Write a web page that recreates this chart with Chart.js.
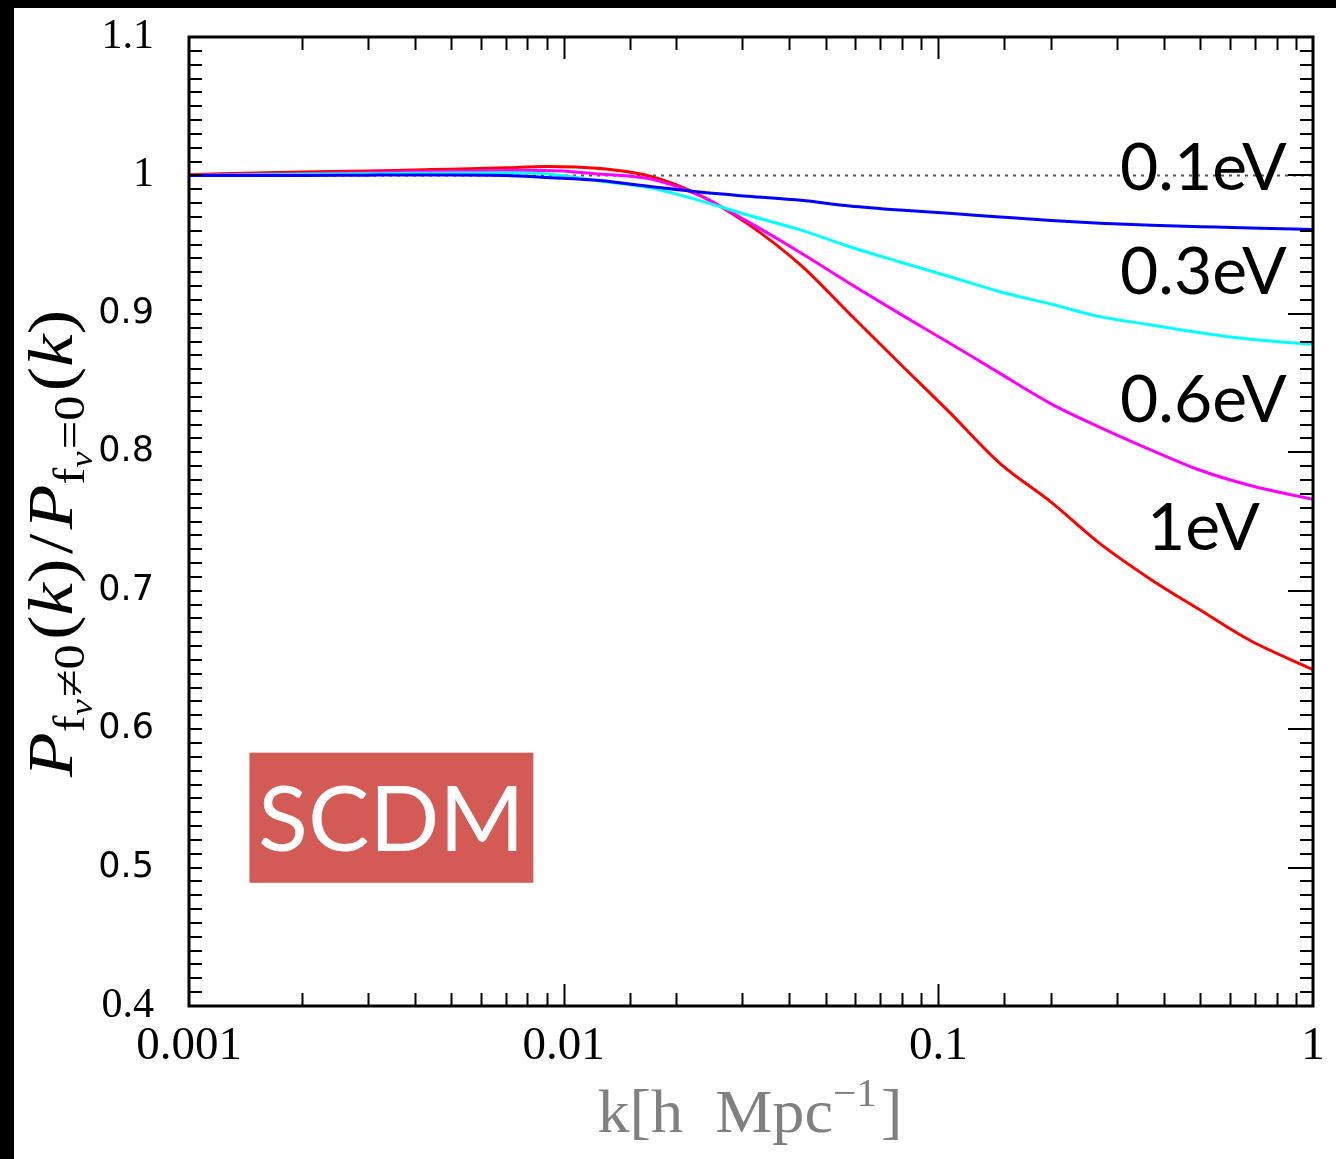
<!DOCTYPE html>
<html>
<head>
<meta charset="utf-8">
<script src="https://cdn.jsdelivr.net/npm/chart.js@4.4.0/dist/chart.umd.min.js"></script>
<style>
  html, body { margin: 0; padding: 0; background: #000; }
  #wrap { position: absolute; left: 14px; top: 8px; width: 1322px; height: 1151px; background: #fff; }
  canvas { display: block; }
</style>
</head>
<body>
<div id="wrap"><canvas id="ratioChart" width="1322" height="1151"></canvas></div>
<script>
const kValues = [0.001, 0.0015, 0.002, 0.003, 0.004, 0.005, 0.007, 0.009, 0.0125, 0.017,
                 0.023, 0.031, 0.043, 0.058, 0.079, 0.107, 0.146, 0.2, 0.27, 0.37, 0.5, 0.68, 1.0];

// P(k) ratio for each neutrino mass
const ratio01eV = [1.0, 1.0, 1.0, 1.0002, 1.0003, 1.0003, 1.0, 0.9985, 0.9963, 0.992,
                   0.988, 0.985, 0.982, 0.978, 0.975, 0.9726, 0.970, 0.9675, 0.9655, 0.964, 0.963, 0.962, 0.961];
const ratio03eV = [1.0, 1.0005, 1.0008, 1.0012, 1.0015, 1.0018, 1.002, 1.0012, 0.996, 0.991,
                   0.982, 0.9714, 0.9605, 0.9485, 0.9375, 0.927, 0.916, 0.907, 0.898, 0.892, 0.8863, 0.8816, 0.878];
const ratio06eV = [1.0, 1.0008, 1.0012, 1.002, 1.0027, 1.003, 1.0035, 1.0036, 1.001, 0.9975,
                   0.9855, 0.9666, 0.944, 0.922, 0.900, 0.879, 0.857, 0.835, 0.818, 0.8016, 0.787, 0.776, 0.766];
const ratio1eV  = [1.0005, 1.0018, 1.0025, 1.0032, 1.004, 1.0045, 1.0055, 1.0065, 1.005, 0.9995,
                   0.986, 0.965, 0.935, 0.900, 0.864, 0.829, 0.792, 0.764, 0.734, 0.708, 0.686, 0.664, 0.643];

// Curve labels, placed in data coordinates (centre of text)
const massLabels = ['0.1eV', '0.3eV', '0.6eV', '1eV'];
const labelK = [0.51, 0.51, 0.51, 0.51];
const labelRatio = [1.0068, 0.9316, 0.8395, 0.7467];

// Tick labels
const xTickValues = [0.001, 0.01, 0.1, 1];
const xTickLabels = ['0.001', '0.01', '0.1', '1'];
const yTickValues = [0.4, 0.5, 0.6, 0.7, 0.8, 0.9, 1.0, 1.1];
const yTickLabels = ['0.4', '0.5', '0.6', '0.7', '0.8', '0.9', '1', '1.1'];
const ySerifLabels = ['0.4', '1', '1.1'];

// Model box
const modelName = 'SCDM';
const modelBoxK = [0.00145, 0.0083];
const modelBoxRatio = [0.489, 0.583];

const serif = "'Liberation Serif', 'DejaVu Serif', serif";
const sansLabel = "Lato, 'Open Sans', sans-serif";

function toPoints(vals) {
    return kValues.map((k, i) => ({ x: k, y: vals[i] }));
}

function findLabel(values, labels, v) {
    for (let i = 0; i < values.length; i++) {
        if (Math.abs(values[i] - v) < 1e-6 * Math.max(1, values[i])) return labels[i];
    }
    return '';
}

function drawRuns(ctx, runs, color) {
    // returns total width, draws from x=0 along baseline
    let x = 0;
    runs.forEach(r => {
        ctx.font = `${r.style || 'normal'} ${r.size}px ${serif}`;
        if (color) {
            ctx.fillStyle = color;
            ctx.fillText(r.t, x, r.dy || 0);
        }
        x += ctx.measureText(r.t).width + (r.gap || 0);
    });
    return x;
}

const yTitleRuns = [
    { t: 'P', style: 'italic', size: 64 },
    { t: 'f', size: 44, dy: 12 },
    { t: 'ν', style: 'italic', size: 32, dy: 20, gap: 2 },
    { t: '≠0', size: 44, dy: 12, gap: 4 },
    { t: '(', size: 64 },
    { t: 'k', style: 'italic', size: 64 },
    { t: ')', size: 64, gap: 4 },
    { t: '/', size: 64, gap: 4 },
    { t: 'P', style: 'italic', size: 64 },
    { t: 'f', size: 44, dy: 12 },
    { t: 'ν', style: 'italic', size: 32, dy: 20, gap: 2 },
    { t: '=0', size: 44, dy: 12, gap: 4 },
    { t: '(', size: 64 },
    { t: 'k', style: 'italic', size: 64 },
    { t: ')', size: 64 }
];

const xTitleRuns = [
    { t: 'k[h  Mpc', size: 62 },
    { t: '−1', size: 40, dy: -26, gap: 4 },
    { t: ']', size: 62 }
];

const framePlugin = {
    id: 'frameAndTicks',
    beforeDatasetsDraw(chart) {
        const ctx = chart.ctx;
        const xs = chart.scales.x, ys = chart.scales.y;
        const x0 = xs.getPixelForValue(modelBoxK[0]), x1 = xs.getPixelForValue(modelBoxK[1]);
        const y0 = ys.getPixelForValue(modelBoxRatio[1]), y1 = ys.getPixelForValue(modelBoxRatio[0]);
        ctx.save();
        ctx.fillStyle = '#d45a56';
        ctx.fillRect(x0, y0, x1 - x0, y1 - y0);
        ctx.font = `92px ${sansLabel}`;
        ctx.fillStyle = '#fff';
        ctx.textAlign = 'center';
        ctx.textBaseline = 'alphabetic';
        ctx.fillText(modelName, (x0 + x1) / 2, (y0 + y1) / 2 + 33);
        ctx.restore();
    },
    afterDatasetsDraw(chart) {
        const ctx = chart.ctx;
        const a = chart.chartArea;
        const xs = chart.scales.x, ys = chart.scales.y;
        ctx.save();
        ctx.strokeStyle = '#000';
        ctx.lineWidth = 2;
        ctx.beginPath();
        xs.ticks.forEach(t => {
            const v = t.value;
            if (v <= xs.min * 1.0001 || v >= xs.max * 0.9999) return;
            const e = Math.log10(v);
            const len = Math.abs(e - Math.round(e)) < 1e-6 ? 22 : 13;
            const px = Math.round(xs.getPixelForValue(v)) + 0.5;
            ctx.moveTo(px, a.bottom); ctx.lineTo(px, a.bottom - len);
            ctx.moveTo(px, a.top); ctx.lineTo(px, a.top + len);
        });
        ys.ticks.forEach(t => {
            const v = t.value;
            if (v <= ys.min + 1e-6 || v >= ys.max - 1e-6) return;
            const major = Math.abs(v * 10 - Math.round(v * 10)) < 1e-6;
            const py = Math.round(ys.getPixelForValue(v));
            ctx.moveTo(a.left, py); ctx.lineTo(a.left + 13, py);
            ctx.moveTo(a.right, py); ctx.lineTo(a.right - (major ? 25 : 13), py);
        });
        ctx.stroke();
        ctx.lineWidth = 3;
        ctx.strokeRect(a.left, a.top, a.right - a.left, a.bottom - a.top);

        // curve labels
        ctx.fillStyle = '#000';
        ctx.font = `66px ${sansLabel}`;
        ctx.textAlign = 'center';
        ctx.textBaseline = 'alphabetic';
        massLabels.forEach((s, i) => {
            ctx.fillText(s, xs.getPixelForValue(labelK[i]), ys.getPixelForValue(labelRatio[i]) + 24);
        });
        ctx.restore();
    },
    afterDraw(chart) {
        const ctx = chart.ctx;
        const a = chart.chartArea;
        ctx.save();
        ctx.textAlign = 'left';
        ctx.textBaseline = 'alphabetic';

        // y title, rotated, stretched to the reference length
        const yw = drawRuns(ctx, yTitleRuns, null);
        const ySx = 467 / yw;
        ctx.save();
        ctx.translate(58, (a.top + a.bottom) / 2 + 22);
        ctx.rotate(-Math.PI / 2);
        ctx.scale(ySx, 1);
        ctx.translate(-yw / 2, 0);
        drawRuns(ctx, yTitleRuns, '#000');
        ctx.restore();

        // x title
        const xw = drawRuns(ctx, xTitleRuns, null);
        const xSx = 305 / xw;
        ctx.save();
        ctx.translate(736, 1124);
        ctx.scale(xSx, 1);
        ctx.translate(-xw / 2, 0);
        drawRuns(ctx, xTitleRuns, '#808080');
        ctx.restore();
        ctx.restore();
    }
};

const lineStyle = { borderWidth: 3, pointRadius: 0, fill: false, cubicInterpolationMode: 'monotone' };

new Chart(document.getElementById('ratioChart'), {
    type: 'line',
    data: {
        datasets: [
            Object.assign({ label: '0.1eV', data: toPoints(ratio01eV), borderColor: '#0000ff' }, lineStyle),
            Object.assign({ label: '0.3eV', data: toPoints(ratio03eV), borderColor: '#00ffff' }, lineStyle),
            Object.assign({ label: '0.6eV', data: toPoints(ratio06eV), borderColor: '#ff00ff' }, lineStyle),
            Object.assign({ label: '1eV', data: toPoints(ratio1eV), borderColor: '#ff0000' }, lineStyle),
            {
                label: 'unity',
                data: [{ x: 0.001, y: 1 }, { x: 1, y: 1 }],
                borderColor: '#555',
                borderWidth: 2,
                borderDash: [3, 5],
                pointRadius: 0
            }
        ]
    },
    options: {
        responsive: false,
        animation: false,
        layout: { padding: { top: 29, right: 23, left: 0, bottom: 0 } },
        plugins: { legend: { display: false }, tooltip: { enabled: false } },
        scales: {
            x: {
                type: 'logarithmic',
                min: 0.001,
                max: 1,
                grid: { display: false },
                border: { display: false },
                ticks: {
                    autoSkip: false,
                    maxRotation: 0,
                    padding: 4,
                    color: '#000',
                    font: { family: serif, size: 47 },
                    callback: (v) => findLabel(xTickValues, xTickLabels, v)
                },
                afterFit: (s) => {
                    s.height = 153;
                    s.paddingLeft = 0;
                    s.paddingRight = 0;
                }
            },
            y: {
                min: 0.4,
                max: 1.1,
                grid: { display: false },
                border: { display: false },
                ticks: {
                    stepSize: 0.01,
                    autoSkip: false,
                    padding: 27,
                    color: '#000',
                    font: (c) => {
                        const lbl = c.tick ? findLabel(yTickValues, yTickLabels, c.tick.value) : '';
                        return ySerifLabels.includes(lbl)
                            ? { family: serif, size: 42 }
                            : { family: "'DejaVu Sans', sans-serif", size: 35 };
                    },
                    callback: (v) => findLabel(yTickValues, yTickLabels, v)
                },
                afterFit: (s) => {
                    s.width = 175;
                    s.paddingTop = 0;
                    s.paddingBottom = 0;
                }
            }
        }
    },
    plugins: [framePlugin]
});
</script>
</body>
</html>
